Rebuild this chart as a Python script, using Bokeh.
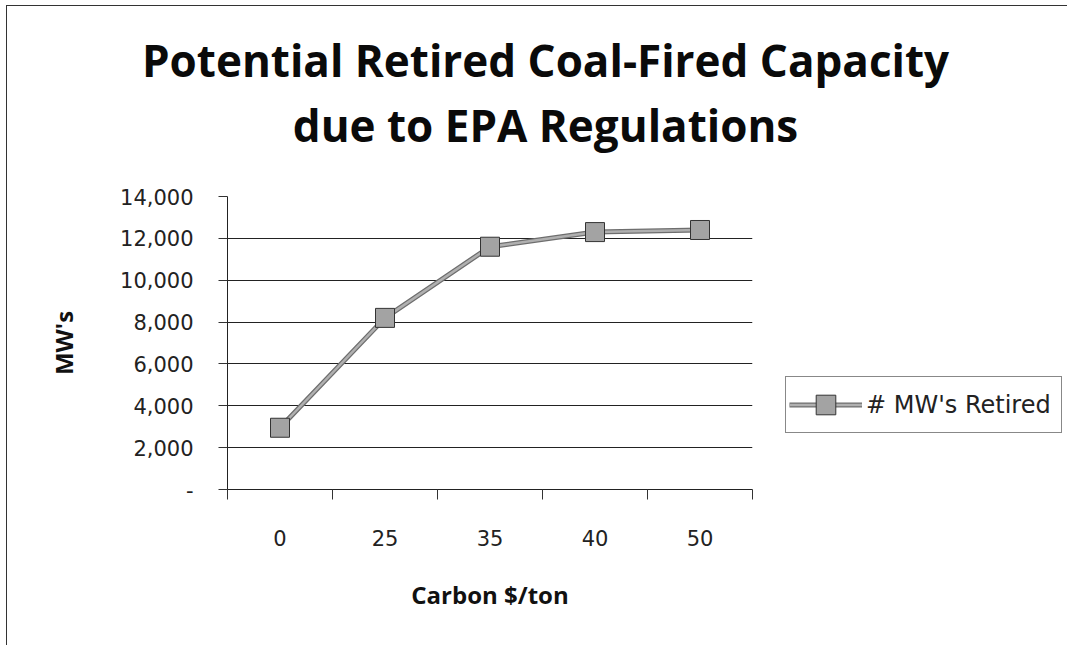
from bokeh.plotting import figure
from bokeh.layouts import column, row
from bokeh.models import FixedTicker, Legend, LegendItem, ColumnDataSource, Range1d, Label
from bokeh.embed import file_html
from bokeh.resources import INLINE

categories = ["0", "25", "35", "40", "50"]
mw_retired = [2950, 8200, 11600, 12300, 12400]
y_ticks = [0, 2000, 4000, 6000, 8000, 10000, 12000, 14000]
y_tick_labels = ["-", "2,000", "4,000", "6,000", "8,000", "10,000", "12,000", "14,000"]

title_line1 = "Potential Retired Coal-Fired Capacity"
title_line2 = "due to EPA Regulations"
x_title = "Carbon $/ton"
y_title = "MW's"
series_name = "# MW's Retired"

xpos = [i + 0.5 for i in range(len(categories))]
src = ColumnDataSource(dict(x=xpos, y=mw_retired))

tick_font = "DejaVu Sans"
TOTAL_W = 1060
TITLE_H = 180
MAIN_W, MAIN_H = 753, 459
LEG_W = TOTAL_W - MAIN_W


def blank(fig):
    fig.outline_line_color = None
    fig.grid.visible = False
    fig.background_fill_color = "white"
    fig.border_fill_color = "white"
    fig.min_border = 0


# ---- title area ----
tfig = figure(width=TOTAL_W, height=TITLE_H, output_backend="svg", toolbar_location=None,
              x_axis_location=None, y_axis_location=None,
              x_range=Range1d(0, 1), y_range=Range1d(0, 1))
blank(tfig)
for txt, yb in [(title_line1, 127), (title_line2, 62)]:
    tfig.add_layout(Label(x=538, y=yb, x_units="screen", y_units="screen", text=txt,
                          text_align="center", text_baseline="alphabetic",
                          text_font="Open Sans", text_font_style="bold",
                          text_font_size="44px", text_color="#0a0a0a"))

# ---- main chart ----
p = figure(width=MAIN_W, height=MAIN_H, output_backend="svg", toolbar_location=None,
           x_range=Range1d(0, len(categories)), y_range=Range1d(0, 14000),
           min_border_left=220, min_border_top=10, min_border_right=8, min_border_bottom=156)
p.outline_line_color = None
p.background_fill_color = "white"
p.border_fill_color = "white"

xa = p.xaxis[0]
xa.ticker = FixedTicker(ticks=xpos, minor_ticks=list(range(len(categories) + 1)))
xa.major_label_overrides = {x: c for x, c in zip(xpos, categories)}
xa.major_tick_out = 0
xa.major_tick_in = 0
xa.minor_tick_out = 10
xa.minor_tick_in = 0
xa.minor_tick_line_color = "#333"
xa.axis_line_color = "#222"
xa.major_label_text_font = tick_font
xa.major_label_text_font_size = "21px"
xa.major_label_text_color = "#222"
xa.major_label_standoff = 30
xa.axis_label = x_title
xa.axis_label_text_font = "Open Sans"
xa.axis_label_text_font_style = "bold"
xa.axis_label_text_font_size = "24px"
xa.axis_label_text_color = "#111"
xa.axis_label_standoff = 29

ya = p.yaxis[0]
ya.ticker = FixedTicker(ticks=y_ticks)
ya.major_label_overrides = {t: l for t, l in zip(y_ticks, y_tick_labels)}
ya.major_tick_out = 9
ya.major_tick_in = 0
ya.major_tick_line_color = "#333"
ya.minor_tick_line_color = None
ya.axis_line_color = "#222"
ya.major_label_text_font = tick_font
ya.major_label_text_font_size = "21px"
ya.major_label_text_color = "#222"
ya.major_label_standoff = 25
ya.axis_label = y_title
ya.axis_label_text_font = "Open Sans"
ya.axis_label_text_font_style = "bold"
ya.axis_label_text_font_size = "24px"
ya.axis_label_text_color = "#111"
ya.axis_label_standoff = 37

p.xgrid.grid_line_color = None
p.ygrid.ticker = FixedTicker(ticks=y_ticks)
p.ygrid.grid_line_color = "#222"
p.ygrid.grid_line_width = 1


def draw_series(fig, visible=True):
    a = fig.line("x", "y", source=src, line_color="#6e6e6e", line_width=5, visible=visible)
    b = fig.line("x", "y", source=src, line_color="#b0b0b0", line_width=2.5, visible=visible)
    c = fig.scatter("x", "y", source=src, marker="square", size=19,
                    fill_color="#a3a3a3", line_color="#333333", line_width=1, visible=visible)
    return [a, b, c]


draw_series(p)

# ---- legend area ----
lfig = figure(width=LEG_W, height=MAIN_H, output_backend="svg", toolbar_location=None,
              x_axis_location=None, y_axis_location=None,
              x_range=Range1d(0, 1), y_range=Range1d(0, 1))
blank(lfig)
leg_renderers = draw_series(lfig, visible=False)
legend = Legend(items=[LegendItem(label=series_name, renderers=leg_renderers)],
                location=(25, 56), orientation="vertical",
                border_line_color="#111", border_line_width=1.5,
                background_fill_color="white", background_fill_alpha=1,
                inactive_fill_alpha=0,
                glyph_width=73, glyph_height=49, label_standoff=4, label_width=192,
                padding=3, margin=0,
                label_text_font=tick_font, label_text_font_size="24px",
                label_text_color="#222")
lfig.add_layout(legend, "center")

layout = column(tfig, row(p, lfig, spacing=0), spacing=0)
layout.styles = {"border-left": "1px solid #333", "border-top": "1px solid #333",
                 "margin-left": "6px", "margin-top": "5px"}

open("out.html", "w").write(file_html(layout, INLINE))
